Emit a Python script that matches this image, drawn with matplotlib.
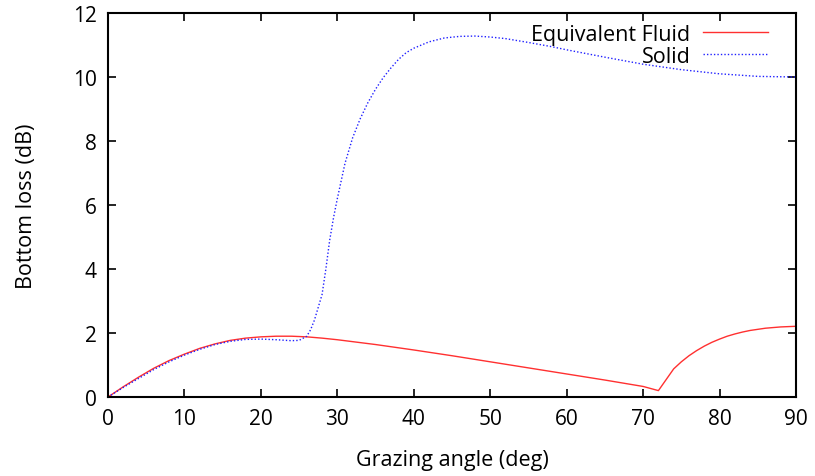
import matplotlib
matplotlib.use("Agg")
import matplotlib.pyplot as plt

# grazing angle (deg) vs bottom loss (dB)
fluid_angle = [0, 2, 4, 6, 8, 10, 12, 14, 16, 18, 20, 22, 24, 26, 28, 30, 35, 40, 45, 50,
               55, 60, 65, 70, 72, 74, 75, 76, 77, 78, 79, 80, 81, 82, 83, 84, 86, 88, 90]
fluid_loss = [0, 0.32, 0.62, 0.9, 1.14, 1.34, 1.52, 1.66, 1.77, 1.84, 1.88, 1.9, 1.9, 1.88,
              1.84, 1.79, 1.64, 1.47, 1.29, 1.1, 0.91, 0.72, 0.53, 0.33, 0.2, 0.88, 1.1, 1.29,
              1.45, 1.59, 1.71, 1.81, 1.9, 1.97, 2.03, 2.08, 2.15, 2.19, 2.21]

solid_angle = [0, 2, 4, 6, 8, 10, 12, 14, 16, 18, 20, 22, 24, 25, 26, 26.5, 27, 27.5, 28,
               28.5, 29, 29.5, 30, 31, 32, 33, 34, 35, 36, 37, 38, 39, 40, 42, 44, 46, 48,
               50, 52, 55, 58, 60, 65, 70, 75, 80, 85, 90]
solid_loss = [0, 0.3, 0.58, 0.86, 1.1, 1.31, 1.49, 1.64, 1.74, 1.8, 1.81, 1.79, 1.76, 1.77,
              1.9, 2.1, 2.4, 2.8, 3.2, 4.0, 4.9, 5.6, 6.2, 7.3, 8.1, 8.7, 9.2, 9.62, 9.98,
              10.28, 10.55, 10.76, 10.9, 11.1, 11.22, 11.27, 11.28, 11.25, 11.2, 11.08,
              10.95, 10.85, 10.62, 10.4, 10.23, 10.1, 10.02, 10.0]

x_ticks = [0, 10, 20, 30, 40, 50, 60, 70, 80, 90]
y_ticks = [0, 2, 4, 6, 8, 10, 12]

plt.rcParams["font.family"] = ["Open Sans", "DejaVu Sans"]

fig = plt.figure(figsize=(8.15, 4.77), dpi=100)
ax = fig.add_axes([0.1325, 0.1656, 0.8442, 0.805])

ax.plot(fluid_angle, fluid_loss, color="#ff3030", lw=1.0, label="Equivalent Fluid")
ax.plot(solid_angle, solid_loss, color="#2020ff", lw=1.0, ls=(0, (1, 1.5)), label="Solid")

ax.set_xlim(0, 90)
ax.set_ylim(0, 12)
ax.set_xticks(x_ticks)
ax.set_yticks(y_ticks)
ax.tick_params(direction="in", length=6, width=1.2, top=True, right=True,
               labelsize=15, pad=8)
for s in ax.spines.values():
    s.set_linewidth(1.5)

ax.set_xlabel("Grazing angle (deg)", fontsize=15.5, labelpad=14)
ax.set_ylabel("Bottom loss (dB)", fontsize=15.5, labelpad=26)

ax.legend(loc="upper right", frameon=False, markerfirst=False, fontsize=15.5,
          handlelength=3.0, borderaxespad=0.1, labelspacing=0.05, handletextpad=0.6,
          bbox_to_anchor=(0.975, 1.0))

fig.savefig("out.png")
